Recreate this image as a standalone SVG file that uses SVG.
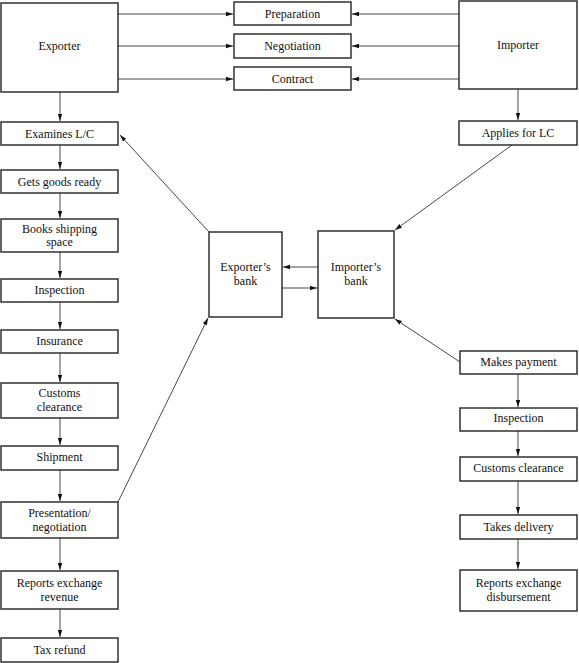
<svg xmlns="http://www.w3.org/2000/svg" width="579" height="663" viewBox="0 0 579 663">
<style>
.b{fill:#fff;stroke:#222;stroke-width:1.4}
.t{font-family:"Liberation Serif","Times New Roman","DejaVu Serif",serif;font-size:12px;fill:#111;text-anchor:middle}
.c{stroke:#333;stroke-width:0.9;fill:none;marker-end:url(#a)}
</style>
<defs>
<marker id="a" markerWidth="8" markerHeight="6" refX="7" refY="3" orient="auto" markerUnits="userSpaceOnUse">
<path d="M0,0.8 L7,3 L0,5.2 Z" fill="#111"/>
</marker>
</defs>
<rect width="579" height="663" fill="#fff"/>
<g id="connectors">
<line class="c" x1="118" y1="14" x2="233" y2="14"/>
<line class="c" x1="118" y1="46" x2="233" y2="46"/>
<line class="c" x1="118" y1="79" x2="233" y2="79"/>
<line class="c" x1="459" y1="14" x2="352" y2="14"/>
<line class="c" x1="459" y1="46" x2="352" y2="46"/>
<line class="c" x1="459" y1="79" x2="352" y2="79"/>
<line class="c" x1="60" y1="92" x2="60" y2="121"/>
<line class="c" x1="60" y1="145" x2="60" y2="169"/>
<line class="c" x1="60" y1="193" x2="60" y2="218"/>
<line class="c" x1="60" y1="252" x2="60" y2="278"/>
<line class="c" x1="60" y1="302" x2="60" y2="329"/>
<line class="c" x1="60" y1="353" x2="60" y2="382"/>
<line class="c" x1="60" y1="418" x2="60" y2="445"/>
<line class="c" x1="60" y1="470" x2="60" y2="501"/>
<line class="c" x1="60" y1="538" x2="60" y2="570"/>
<line class="c" x1="60" y1="609" x2="60" y2="637"/>
<line class="c" x1="518" y1="89" x2="518" y2="120"/>
<line class="c" x1="518" y1="374" x2="518" y2="407"/>
<line class="c" x1="518" y1="431" x2="518" y2="456"/>
<line class="c" x1="518" y1="481" x2="518" y2="514"/>
<line class="c" x1="518" y1="539" x2="518" y2="569"/>
<line class="c" x1="209" y1="232" x2="120" y2="135"/>
<line class="c" x1="512" y1="145" x2="395" y2="230"/>
<line class="c" x1="118" y1="502" x2="208" y2="318"/>
<line class="c" x1="460" y1="362" x2="395" y2="319"/>
<line class="c" x1="318" y1="267" x2="283" y2="267"/>
<line class="c" x1="282" y1="288" x2="317" y2="288"/>
</g>
<g id="exporter"><rect class="b" x="1" y="3" width="117" height="89"/><text class="t" x="59.5" y="50">Exporter</text></g>
<g id="importer"><rect class="b" x="459" y="1" width="118" height="88"/><text class="t" x="518" y="49">Importer</text></g>
<g id="preparation"><rect class="b" x="234" y="2" width="117" height="23"/><text class="t" x="292.5" y="18">Preparation</text></g>
<g id="negotiation"><rect class="b" x="234" y="34" width="117" height="24"/><text class="t" x="292.5" y="50">Negotiation</text></g>
<g id="contract"><rect class="b" x="234" y="67" width="117" height="23"/><text class="t" x="292.5" y="83">Contract</text></g>
<g id="examines"><rect class="b" x="1" y="122" width="117" height="23"/><text class="t" x="59.5" y="138">Examines L/C</text></g>
<g id="goods"><rect class="b" x="1" y="170" width="117" height="23"/><text class="t" x="59.5" y="186">Gets goods ready</text></g>
<g id="books"><rect class="b" x="1" y="219" width="117" height="33"/><text class="t" x="59.5" y="233">Books shipping</text><text class="t" x="59.5" y="246">space</text></g>
<g id="inspection-e"><rect class="b" x="1" y="279" width="117" height="23"/><text class="t" x="59.5" y="294">Inspection</text></g>
<g id="insurance"><rect class="b" x="1" y="330" width="117" height="23"/><text class="t" x="59.5" y="345">Insurance</text></g>
<g id="customs-e"><rect class="b" x="1" y="383" width="117" height="35"/><text class="t" x="59.5" y="397">Customs</text><text class="t" x="59.5" y="411">clearance</text></g>
<g id="shipment"><rect class="b" x="1" y="446" width="117" height="24"/><text class="t" x="59.5" y="461">Shipment</text></g>
<g id="presentation"><rect class="b" x="1" y="502" width="117" height="36"/><text class="t" x="59.5" y="517">Presentation/</text><text class="t" x="59.5" y="531">negotiation</text></g>
<g id="revenue"><rect class="b" x="1" y="571" width="117" height="38"/><text class="t" x="59.5" y="587">Reports exchange</text><text class="t" x="59.5" y="601">revenue</text></g>
<g id="tax"><rect class="b" x="1" y="638" width="117" height="24"/><text class="t" x="59.5" y="654">Tax refund</text></g>
<g id="exporters-bank"><rect class="b" x="209" y="232" width="73" height="85"/><text class="t" x="245.5" y="271">Exporter’s</text><text class="t" x="245.5" y="285">bank</text></g>
<g id="importers-bank"><rect class="b" x="318" y="231" width="76" height="87"/><text class="t" x="356" y="271">Importer’s</text><text class="t" x="356" y="285">bank</text></g>
<g id="applies"><rect class="b" x="459" y="121" width="118" height="24"/><text class="t" x="518" y="137">Applies for LC</text></g>
<g id="payment"><rect class="b" x="460" y="351" width="117" height="23"/><text class="t" x="518.5" y="366">Makes payment</text></g>
<g id="inspection-i"><rect class="b" x="460" y="408" width="117" height="23"/><text class="t" x="518.5" y="422">Inspection</text></g>
<g id="customs-i"><rect class="b" x="460" y="457" width="117" height="24"/><text class="t" x="518.5" y="472">Customs clearance</text></g>
<g id="delivery"><rect class="b" x="460" y="515" width="117" height="24"/><text class="t" x="518.5" y="531">Takes delivery</text></g>
<g id="disbursement"><rect class="b" x="460" y="570" width="117" height="41"/><text class="t" x="518.5" y="587">Reports exchange</text><text class="t" x="518.5" y="601">disbursement</text></g>
</svg>
